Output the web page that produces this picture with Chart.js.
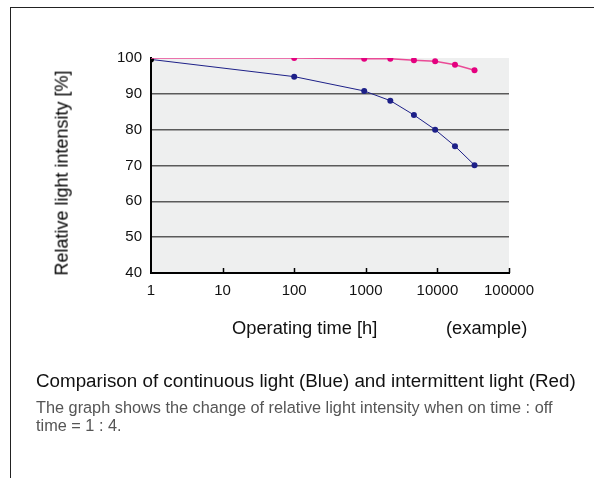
<!DOCTYPE html>
<html lang="en">

<head>
    <meta charset="UTF-8">
    <title>Relative light intensity</title>
    <script src="https://cdn.jsdelivr.net/npm/chart.js"></script>
    <style>
        body { margin: 0; background: #fff; font-family: "Liberation Sans", Arial, sans-serif; }
        .page { position: relative; width: 594px; height: 478px; overflow: hidden; }
        .frame { position: absolute; left: 10px; top: 7px; width: 600px; height: 480px;
                 border-top: 1px solid #222; border-left: 1px solid #222; }
        .chart { position: absolute; left: 0; top: 0; width: 594px; height: 478px; }
        .txt { position: absolute; white-space: nowrap; color: #111; line-height: 1.15; }
        .ytitle { font-size: 18px; left: 62px; top: 173px; color: #000; transform: translate(-50%, -50%) rotate(-90deg); }
        .xtitle { font-size: 18.3px; left: 232px; top: 317px; }
        .example { font-size: 18.3px; left: 446px; top: 317px; }
        .caption { font-size: 18.8px; left: 36px; top: 370px; }
        .note { font-size: 16.3px; left: 36px; top: 398px; color: #555; line-height: 18px; white-space: normal; width: 532px; }
    </style>
</head>

<body>
    <div class="page">
        <div class="frame"></div>
        <div class="chart"><canvas id="myChart" width="594" height="478"></canvas></div>
        <div class="txt ytitle">Relative light intensity [%]</div>
        <div class="txt xtitle">Operating time [h]</div>
        <div class="txt example">(example)</div>
        <div class="txt caption">Comparison of continuous light (Blue) and intermittent light (Red)</div>
        <div class="txt note">The graph shows the change of relative light intensity when on time : off time = 1 : 4.</div>
    </div>

    <script>
        // operating time [h] and relative intensity [%]
        const blueHours = [1, 100, 950, 2200, 4700, 9300, 17600, 33000];
        const blueValues = [99.6, 94.8, 90.8, 88.1, 84.1, 80.0, 75.4, 70.1];
        const redHours = [1, 100, 950, 2200, 4700, 9300, 17600, 33000];
        const redValues = [100, 100, 99.8, 99.8, 99.4, 99.1, 98.1, 96.6];
        const xTicks = [1, 10, 100, 1000, 10000, 100000];
        const yTicks = [40, 50, 60, 70, 80, 90, 100];

        const toPoints = (xs, ys) => xs.map((x, i) => ({ x: x, y: ys[i] }));

        // grey plot background + small inward ticks on the time axis
        const plotDeco = {
            id: 'plotDeco',
            beforeDraw(chart) {
                const a = chart.chartArea;
                const ctx = chart.ctx;
                ctx.save();
                ctx.fillStyle = '#eeefef';
                ctx.fillRect(a.left, a.top, a.right - a.left, a.bottom - a.top);
                ctx.restore();
            },
            afterDatasetsDraw(chart) {
                const a = chart.chartArea;
                const ctx = chart.ctx;
                const xs = chart.scales.x;
                ctx.save();
                ctx.strokeStyle = '#000';
                ctx.lineWidth = 1.5;
                xTicks.slice(1).forEach(v => {
                    const px = Math.round(xs.getPixelForValue(v)) + 0.5;
                    ctx.beginPath();
                    ctx.moveTo(px, a.bottom);
                    ctx.lineTo(px, a.bottom - 5);
                    ctx.stroke();
                });
                ctx.restore();
            }
        };

        const ctx = document.getElementById('myChart').getContext('2d');
        const myChart = new Chart(ctx, {
            type: 'line',
            data: {
                datasets: [{
                    label: 'Intermittent (Red)',
                    data: toPoints(redHours, redValues),
                    borderColor: '#ea4a96',
                    backgroundColor: '#e4007f',
                    borderWidth: 1.5,
                    pointRadius: redHours.map((h, i) => i === 0 ? 0 : 3),
                    pointBorderWidth: 0,
                    tension: 0,
                }, {
                    label: 'Continuous (Blue)',
                    data: toPoints(blueHours, blueValues),
                    borderColor: '#1d2088',
                    backgroundColor: blueHours.map((h, i) => i === 0 ? '#000' : '#1d2088'),
                    borderWidth: 1,
                    pointRadius: 3,
                    pointBorderWidth: 0,
                    tension: 0,
                }]
            },
            options: {
                responsive: false,
                animation: false,
                layout: { padding: { left: 0, top: 58, right: 85, bottom: 175 } },
                scales: {
                    x: {
                        type: 'logarithmic',
                        min: 1,
                        max: 100000,
                        afterBuildTicks: (axis) => { axis.ticks = xTicks.map(v => ({ value: v })); },
                        afterFit: (axis) => { axis.height = 30; },
                        ticks: {
                            color: '#111',
                            font: { family: 'Liberation Sans', size: 15 },
                            padding: 9,
                            maxRotation: 0,
                            autoSkip: false,
                            callback: (v) => String(v),
                        },
                        grid: { display: false, drawTicks: false },
                        border: { display: true, color: '#000', width: 2 },
                    },
                    y: {
                        min: 40,
                        max: 100,
                        afterBuildTicks: (axis) => { axis.ticks = yTicks.map(v => ({ value: v })); },
                        afterFit: (axis) => { axis.width = 151; },
                        ticks: {
                            color: '#111',
                            font: { family: 'Liberation Sans', size: 15 },
                            padding: 9,
                        },
                        grid: {
                            drawTicks: false,
                            color: (c) => (c.tick && (c.tick.value === 100 || c.tick.value === 40)) ? 'rgba(0,0,0,0)' : '#5a5a5a',
                            lineWidth: 1.5,
                        },
                        border: { display: true, color: '#000', width: 2 },
                    }
                },
                plugins: {
                    legend: { display: false },
                    tooltip: { enabled: false },
                }
            },
            plugins: [plotDeco]
        });
    </script>

</body>

</html>
